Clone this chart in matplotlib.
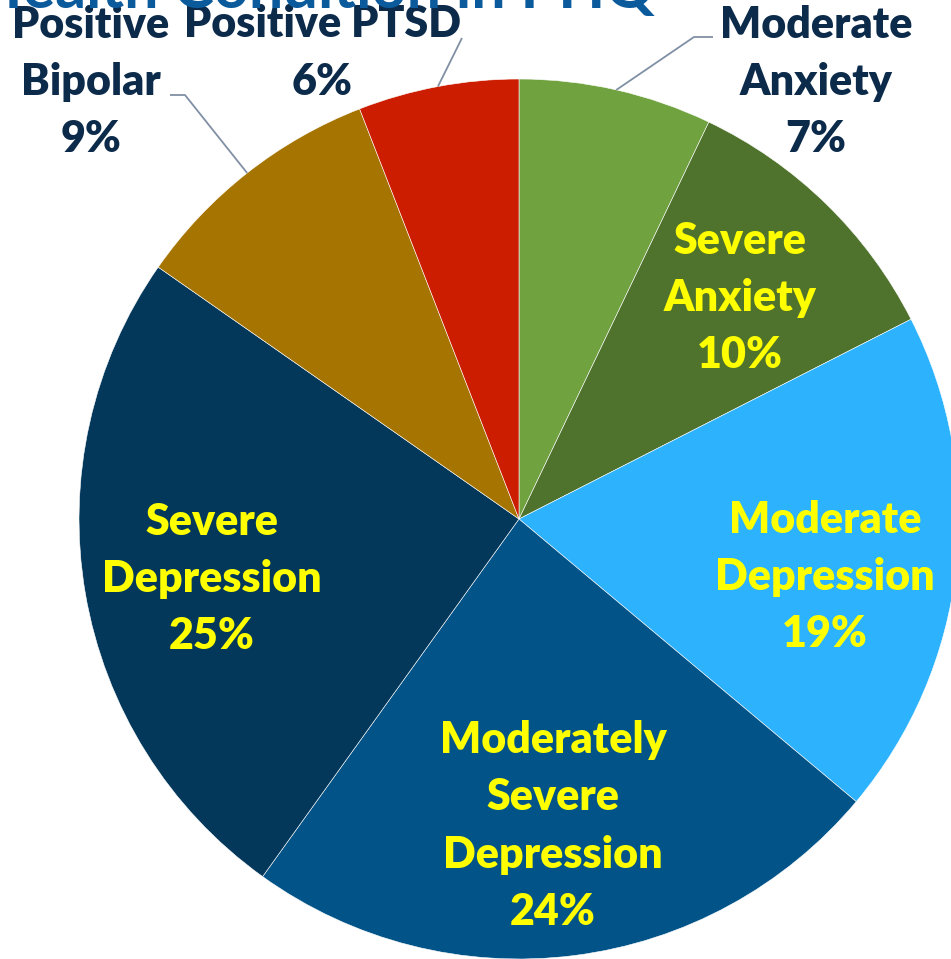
import numpy as np
import matplotlib.pyplot as plt

# slices, clockwise from 12 o'clock
conditions = ["Moderate\nAnxiety", "Severe\nAnxiety", "Moderate\nDepression",
              "Moderately\nSevere\nDepression", "Severe\nDepression",
              "Positive\nBipolar", "Positive PTSD"]
shares = [7.1, 10.4, 18.6, 23.8, 24.8, 9.4, 5.9]
colors = ["#70a340", "#4f732c", "#2db2fe", "#025488", "#03385b", "#a67400", "#cc1d00"]

NAVY = "#0c2b4b"
YELLOW = "#ffff00"
FONT = "Lato"

# layout in pixels of the 951x959 picture
CX, CY, R = 519, 519, 440
label_px = [(816, 82), (740, 298), (825, 577), (553, 826), (212, 579), (91, 82), (322, 53)]
inside = [False, True, True, True, True, False, False]
leader_px = {0: [(694, 37), (713, 37)], 5: [(185, 95), (170, 95)], 6: [(462, 38)]}


def px(x, y):
    return (x - CX) / R, (CY - y) / R


fig = plt.figure(figsize=(9.51, 9.59), dpi=100)
ax = fig.add_axes([0, 0, 1, 1])

wedges, _ = ax.pie(shares, colors=colors, startangle=90, counterclock=False,
                   radius=1, center=(0, 0),
                   wedgeprops=dict(edgecolor="#ffffff", linewidth=0.4))

total = sum(shares)
for i, (name, val) in enumerate(zip(conditions, shares)):
    pct = round(val / total * 100)
    lx, ly = px(*label_px[i])
    ax.text(lx, ly, f"{name}\n{pct}%", ha="center", va="center", multialignment="center",
            fontsize=31, fontweight="heavy", family=FONT, linespacing=1.53,
            color=YELLOW if inside[i] else NAVY)

# leader lines from the wedge rim to the outside labels
for i, pts in leader_px.items():
    w = wedges[i]
    mid = np.deg2rad((w.theta1 + w.theta2) / 2)
    xs = [np.cos(mid)] + [px(*p)[0] for p in pts]
    ys = [np.sin(mid)] + [px(*p)[1] for p in pts]
    ax.plot(xs, ys, color="#8090a4", lw=1.3, solid_capstyle="butt")

# title above, mostly cut off by the crop
tx, ty = px(655, 8)
ax.text(tx, ty, "Mental Health Condition in PHQ", ha="right", va="baseline",
        fontsize=44, fontweight="bold", family=FONT, color="#0b5a9c")

ax.set_xlim(-CX / R, (951 - CX) / R)
ax.set_ylim(-(959 - CY) / R, CY / R)
ax.set_aspect("auto")
ax.set_axis_off()

fig.savefig("out.png", dpi=100)
